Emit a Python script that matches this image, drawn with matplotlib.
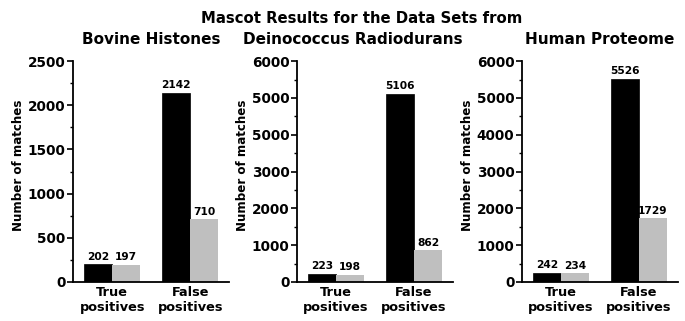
import matplotlib.pyplot as plt
from matplotlib.ticker import MultipleLocator, FixedLocator, FixedFormatter

plt.rcParams['font.family'] = 'DejaVu Sans'
plt.rcParams['font.weight'] = 'bold'

# data
categories = ['True\npositives', 'False\npositives']
panel_titles = ['Bovine Histones', 'Deinococcus Radiodurans', 'Human Proteome']
black_vals = [[202, 2142], [223, 5106], [242, 5526]]
grey_vals = [[197, 710], [198, 862], [234, 1729]]
ymax = [2500, 6000, 6000]
ystep = [500, 1000, 1000]
# the middle panel in the source repeats "5000" where 4000 belongs
ytick_text = [
    ['0', '500', '1000', '1500', '2000', '2500'],
    ['0', '1000', '2000', '3000', '5000', '5000', '6000'],
    ['0', '1000', '2000', '3000', '4000', '5000', '6000'],
]

fig = plt.figure(figsize=(6.85, 3.21), dpi=100)
lefts = [0.107, 0.4336, 0.762]
title_x = [0.5, 0.355, 0.5]  # middle subtitle sits left of its panel centre
w = 0.36

for k in range(3):
    ax = fig.add_axes([lefts[k], 0.1215, 0.2277, 0.688])
    xs = range(len(categories))
    b1 = ax.bar([x - w / 2 for x in xs], black_vals[k], w, color='black',
                edgecolor='black', linewidth=0.5)
    b2 = ax.bar([x + w / 2 for x in xs], grey_vals[k], w, color='#bfbfbf',
                linewidth=0)
    for bars, vals in ((b1, black_vals[k]), (b2, grey_vals[k])):
        for b, v in zip(bars, vals):
            ax.text(b.get_x() + b.get_width() / 2, v + ymax[k] * 0.012, str(v),
                    ha='center', va='bottom', fontsize=7.7, fontweight='bold')
    ax.set_xlim(-0.5, 1.5)
    ax.set_ylim(0, ymax[k])
    ticks = list(range(0, ymax[k] + 1, ystep[k]))
    ax.yaxis.set_major_locator(FixedLocator(ticks))
    ax.yaxis.set_major_formatter(FixedFormatter(ytick_text[k]))
    ax.yaxis.set_minor_locator(MultipleLocator(ystep[k] / 2))
    ax.set_xticks(list(xs))
    ax.set_xticklabels(categories, fontsize=9.3, fontweight='bold', linespacing=1.15)
    ax.tick_params(axis='x', length=0, pad=3)
    ax.tick_params(axis='y', which='major', length=4, width=1.2, labelsize=9.8, pad=1.5)
    ax.tick_params(axis='y', which='minor', length=2.5, width=1.0)
    for s in ('top', 'right'):
        ax.spines[s].set_visible(False)
    for s in ('left', 'bottom'):
        ax.spines[s].set_linewidth(1.3)
    ax.set_ylabel('Number of matches', fontsize=8.6, fontweight='bold', labelpad=2, y=0.53)
    ax.set_title(panel_titles[k], fontsize=11, fontweight='bold', pad=12, x=title_x[k])

fig.text(0.528, 0.928, 'Mascot Results for the Data Sets from', ha='center',
         va='baseline', fontsize=10.7, fontweight='bold')

fig.savefig('out.png', dpi=100)
